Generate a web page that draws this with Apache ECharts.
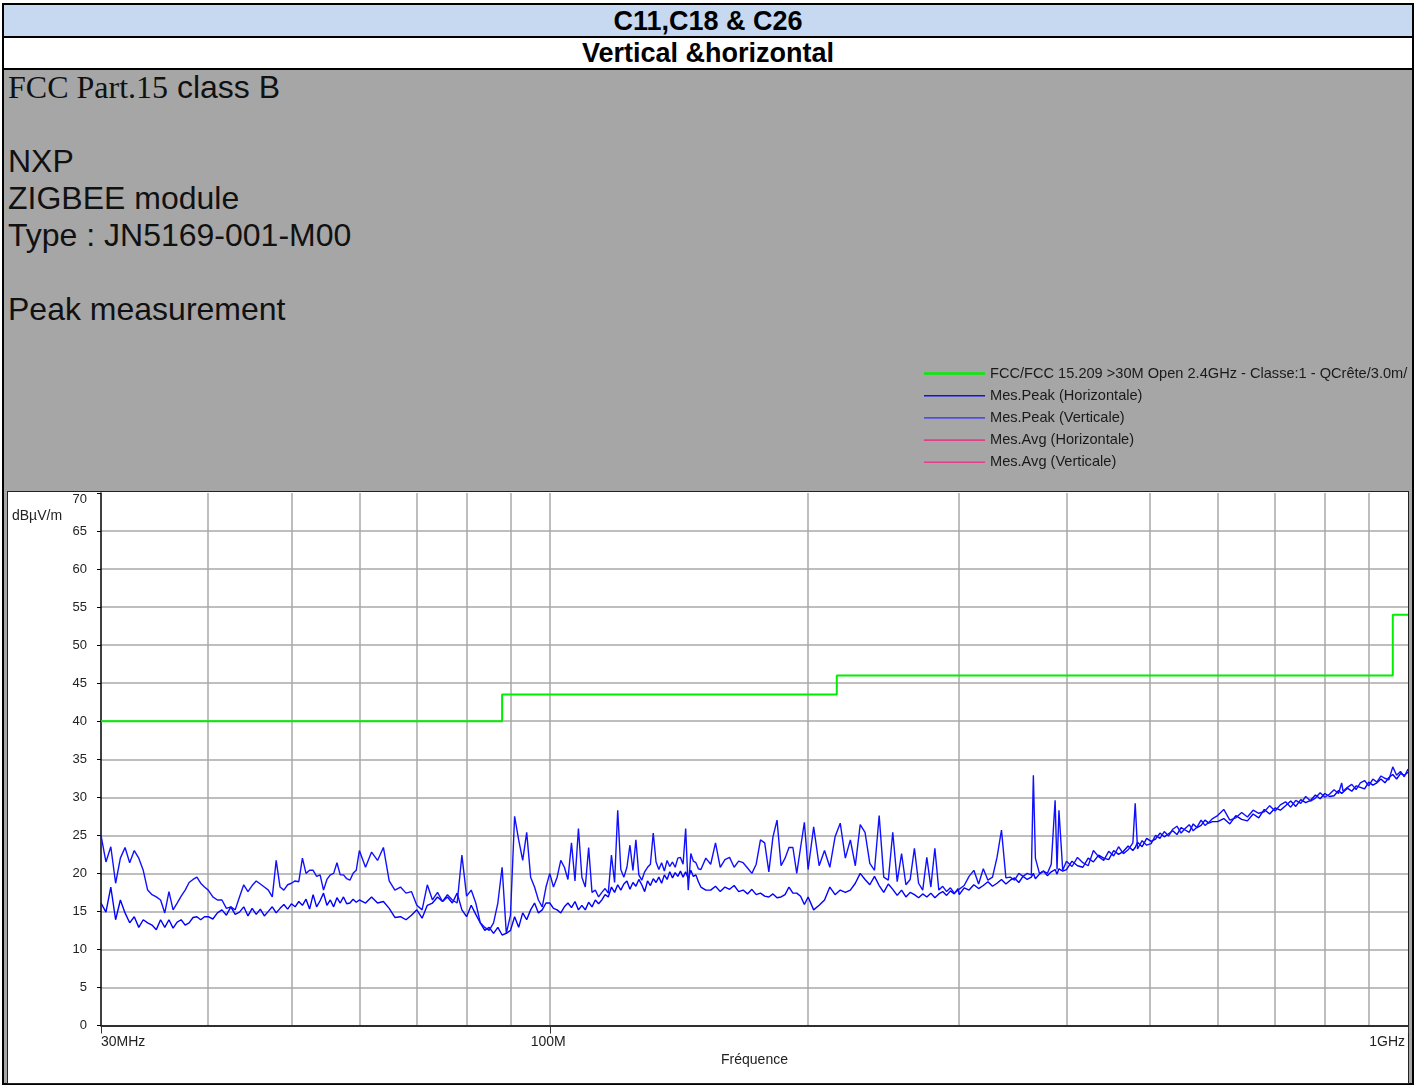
<!DOCTYPE html>
<html>
<head>
<meta charset="utf-8">
<script src="https://cdn.jsdelivr.net/npm/echarts@6/dist/echarts.min.js"></script>
<style>
html,body{margin:0;padding:0;background:#fff;width:1416px;height:1086px;overflow:hidden;font-family:"Liberation Sans",Arial,sans-serif;}
.abs{position:absolute;}
#outer{left:2px;top:3px;width:1412px;height:1082px;box-sizing:border-box;border:2px solid #000;background:#a6a6a6;}
#h1{left:4px;top:5px;width:1408px;height:31px;border-bottom:2px solid #000;background:#c6d9f1;text-align:center;font-weight:bold;font-size:27px;line-height:32px;color:#000;}
#h2{left:4px;top:38px;width:1408px;height:30px;border-bottom:2px solid #000;background:#fff;text-align:center;font-weight:bold;font-size:27px;line-height:30px;color:#000;}
#info{left:8px;top:69px;font-size:32px;line-height:37px;color:#111;white-space:pre;}
#info .serif{font-family:"Liberation Serif","Times New Roman",serif;}
#plotframe{left:7px;top:491px;width:1402px;height:593px;box-sizing:border-box;border:1.5px solid #222;background:#fff;}
#chart{left:0;top:0;width:1416px;height:1086px;}
</style>
</head>
<body>
<div id="outer" class="abs"></div>
<div id="h1" class="abs">C11,C18 &amp; C26</div>
<div id="h2" class="abs">Vertical &amp;horizontal</div>
<div id="info" class="abs"><span class="serif">FCC Part.15</span> class B

NXP
ZIGBEE module
Type : JN5169-001-M00

Peak measurement</div>
<div id="plotframe" class="abs"></div>
<div id="chart" class="abs"></div>
<script>
// ---- Data (frequency in MHz, level in dBµV/m) ----
const freqMHz = [
30,30.4,30.8,31.2,31.6,32,32.4,32.8,33.2,33.6,34,34.4,34.8,35.2,35.6,36,36.4,36.8,37.2,37.6,38,38.4,38.8,39.2,39.6,
40,40.5,41,41.5,42,42.5,43,43.5,44,44.5,45,45.5,46,46.5,47,47.5,48,48.5,49,49.5,50,50.5,51,51.5,52,52.5,53,53.5,54,54.5,55,55.5,56,56.5,57,57.5,58,58.5,59,59.5,
60,61,62,63,64,65,66,67,68,69,70,71,72,73,74,75,76,77,78,79,80,81,82,83,84,85,86,87,88,89,90,91,92,93,94,95,96,97,98,99,
100,101,102,103,104,105,106,107,108,109,110,111,112,113,114,115,116,117,118,119,120,121,122,123,124,125,126,127,128,129,130,131,132,133,134,135,136,137,138,139,140,141,142,143,144,145,146,147,148,149,
150,152,154,156,158,160,162,164,166,168,170,172,174,176,178,180,182,184,186,188,190,192,194,196,198,
200,203,206,209,212,215,218,221,224,227,230,233,236,239,242,245,248,251,254,257,260,263,266,269,272,275,278,281,284,287,290,293,296,299,
300,304,308,312,316,320,324,328,332,336,340,344,348,352,356,360,364,366,368,372,376,380,384,388,390,392,396,
400,406,412,418,424,430,436,442,448,454,460,466,472,478,481,484,490,496,502,508,514,520,526,532,538,544,550,556,562,568,574,580,586,592,
600,610,620,630,640,650,660,670,680,690,700,710,720,730,740,750,760,770,780,790,800,810,820,830,837,840,850,860,870,880,890,900,910,920,930,940,950,960,970,980,990,1000
];

const peakVert = [
25,21.5,23.5,18.7,22,23.4,21.4,23,22,20.4,17.8,17.2,16.9,16.5,14.8,17.6,15.2,16.1,17,17.8,18.8,19.2,19.5,18.7,18.2,
17.8,16.9,16.5,16.5,15.4,15.6,15.2,16.9,18.5,17.6,18.4,19,18.6,18.2,17.8,16.9,21.7,18.2,17.8,18.5,18.7,19,18.9,22,20,20.4,20.4,19.6,19.8,17.8,19.2,19.8,20,21.4,19.8,19.8,19.3,19.1,20,20.4,
23,20.8,22.8,21.7,23.4,19,17.8,18.2,17.4,17.6,15.8,15.2,18.5,16.5,17.5,16.3,17.2,16.5,16.1,22.4,17,17.8,16.1,13.5,12.9,12.5,13.5,16.1,20.8,12.1,14.5,27.5,24.4,21.7,25.4,19.5,18.2,16.5,15.6,18.2,
20,18.2,19.5,21.7,20.8,19.2,24,19,25.9,19.5,18.2,23.4,17.5,17.8,16.9,17.5,18,17.4,22.4,18.8,28.3,20.5,19.5,20.8,23.7,20.4,24.4,19.8,19.1,20.2,20.8,21.2,25.3,21.5,20.5,21.4,20.3,21.7,20.9,21.5,20.8,22,22.1,21.2,25.9,17.8,22.6,21.6,21.4,20.6,
20.5,22,21.2,24,20.8,21.8,22.1,20.8,21.6,21.4,20.7,20,21.2,24.4,24,20.2,24.8,27,21,22,23.4,23.4,20,23.4,26.7,
20.5,26.1,21,23,20.8,24.8,26.6,22,24.4,21,26.4,25.4,21.3,20.4,27.6,19.5,19.1,25.4,18.9,22.6,18.5,19.2,23.3,18.7,17.8,22.1,18.2,23.3,17.8,18.3,17.6,18.1,17.4,17.8,
17.8,18.4,19.6,20.4,18.6,20.6,19.1,19.5,22.1,25.7,19.4,19.5,19.1,20,19.6,20,19.8,32.9,22,20,20.3,20,21.2,29.6,20.5,28.3,20.4,
21.6,20.9,22.1,21.4,21.0,23.0,22.2,21.7,22.9,22.3,23.5,22.6,23.1,24.0,29.2,23.2,24.3,23.7,23.9,25.0,24.6,25.5,24.9,25.8,26.2,25.3,25.9,26.4,25.6,26.1,27.0,26.3,26.7,27.2,
27.6,28.4,27.0,27.3,28.0,27.4,28.3,27.9,28.1,28.9,28.2,29.0,29.4,28.7,29.6,29.2,30.1,29.5,29.9,30.6,30.0,30.4,31.0,30.5,31.9,30.8,31.3,31.7,31.0,31.9,32.2,31.5,32.4,32.0,32.8,32.5,32.3,34.0,32.9,33.4,32.7,33.7
];

const peakHoriz = [
16.1,14.9,18.2,13.9,16.5,14.8,13.5,14.3,12.9,13.9,13.5,13.2,12.6,13.9,12.9,13.9,12.8,13.6,13.9,13.2,13.5,14.2,14.3,13.9,14.3,
14.3,14.0,14.8,15.2,14.5,15.6,14.6,14.9,15.6,14.4,15.4,14.6,15.3,14.4,15.0,15.6,14.8,15.4,15.9,15.3,16.0,15.6,16.3,15.8,16.6,15.3,17.2,15.6,16.4,17.4,15.8,16.5,15.6,16.8,16.1,16.9,16.0,16.1,16.6,16.2,
16.5,16.1,16.9,16.1,16.3,15.4,14.2,14.3,13.9,14.5,15.2,14.1,15.8,16.1,16.9,16.3,16.9,16.1,17.4,15.2,14.3,15.8,14.6,13.5,12.5,12.9,12.1,12.9,11.9,12.1,12.5,14.3,12.9,14.8,13.9,15.2,16.1,14.8,15.2,16.1,
16.1,15.4,15.2,14.8,15.6,16.1,15.5,16.3,15.2,15.8,15.2,16.2,15.6,16.5,16.0,16.5,17.2,16.9,18.2,17.5,18.5,17.8,18.6,19.0,17.9,18.8,18.3,19.2,18.5,17.6,19.0,18.4,19.3,18.8,19.5,18.7,19.8,19.2,20.2,19.4,20.1,19.6,20.3,19.5,20.2,19.3,20.4,19.6,19.8,18.9,
18.2,17.8,17.8,18.3,17.6,18.2,17.9,18.4,17.6,17.8,17.3,17.9,17.2,17.4,17.0,16.9,17.3,16.8,16.9,17.2,18.2,17.4,17.4,17.0,15.9,
16.9,15.2,15.8,16.5,18.2,17.2,17.8,17.5,17.8,18.7,20,19.2,18.5,19.6,18.4,17.5,18.6,17.9,17.1,17.8,16.9,17.5,17.2,16.8,17.3,16.9,17.4,16.8,17.3,17.6,17.1,17.7,17.3,18,
17.2,18.1,17.8,18.5,18.0,18.4,18.9,18.3,18.7,19.2,18.6,19.1,19.4,18.8,19.6,19.2,19.5,20.0,19.3,19.9,20.3,19.7,20.2,20.5,19.9,20.6,20.3,
20.5,21.6,21.0,20.8,22.0,21.5,22.4,22.0,21.8,23.0,22.5,22.9,23.6,23.0,23.4,24.1,23.5,24.6,24.2,24.5,25.3,24.8,25.2,25.6,25.1,26.0,25.7,25.4,26.5,26.0,26.3,27.0,26.6,26.8,
26.8,27.2,26.5,27.6,27.1,26.9,27.8,27.3,28.4,27.8,28.6,28.3,28.9,29.5,28.8,29.7,29.3,29.6,30.3,29.8,30.5,30.1,30.2,30.9,30.5,30.6,31.2,30.8,31.5,31.3,31.1,32.0,31.6,31.9,32.4,31.9,32.6,33.0,32.4,33.1,32.9,33.3
];

const avgHoriz = [];
const avgVert = [];

// FCC 15.209 limit (step at each listed frequency)
const limitFreqMHz = [30, 88, 216, 960, 1000];
const limitDb = [40, 43.5, 46, 54, 54];

// Axis ticks / labels
const xGridMHz = [40,50,60,70,80,90,100,200,300,400,500,600,700,800,900];
const xLabelMHz = [30, 100, 1000];
const xLabelText = ['30MHz', '100M', '1GHz'];
const yMin = 0, yMax = 70, yStep = 5;

const seriesNames = [
  'FCC/FCC 15.209 >30M Open 2.4GHz - Classe:1 - QCrête/3.0m/',
  'Mes.Peak (Horizontale)',
  'Mes.Peak (Verticale)',
  'Mes.Avg (Horizontale)',
  'Mes.Avg (Verticale)'
];

// ---- Chart ----
const lg = Math.log10;
const xMin = lg(30), xMax = lg(1000);
const toPts = (fs, vs) => fs.map((f, i) => [lg(f), vs[i]]);
const font = 'Liberation Sans, Arial, sans-serif';
const thinIcon = 'path://M0,0H60V1.6H0Z';
const thickIcon = 'path://M0,0H60V2.6H0Z';

const chart = echarts.init(document.getElementById('chart'), null, {renderer: 'canvas'});
const option = {
  animation: false,
  backgroundColor: 'transparent',
  textStyle: {fontFamily: font},
  grid: {left: 101, top: 493, width: 1307, height: 532.5, show: false},
  legend: {
    orient: 'vertical', left: 924, top: 366, padding: 0,
    itemWidth: 61, itemHeight: 14, itemGap: 7.2,
    selectedMode: false,
    textStyle: {fontSize: 14.6, color: '#1a1a1a', fontFamily: font},
    data: seriesNames.map((n, i) => ({name: n, icon: i === 0 ? thickIcon : thinIcon}))
  },
  graphic: [{
    type: 'text', left: 12, top: 509,
    style: {text: 'dBµV/m', fontSize: 14, fill: '#222', fontFamily: font}
  }],
  xAxis: [
    {
      type: 'value', min: xMin, max: xMax, position: 'bottom',
      axisLine: {show: false}, axisLabel: {show: false},
      axisTick: {show: false, customValues: xGridMHz.map(lg)},
      splitLine: {show: true, lineStyle: {color: '#a8a8a8', width: 1.5}}
    },
    {
      type: 'value', min: xMin, max: xMax, position: 'bottom',
      axisLine: {show: true, onZero: false, lineStyle: {color: '#000', width: 1.5}},
      axisTick: {show: true, length: 8, customValues: xLabelMHz.map(lg), lineStyle: {color: '#333', width: 1}},
      axisLabel: {
        show: true, customValues: xLabelMHz.map(lg), margin: 10, fontSize: 14, color: '#222',
        alignMinLabel: 'left', alignMaxLabel: 'right', padding: [0, 3, 0, 0],
        formatter: function (v) {
          for (let i = 0; i < xLabelMHz.length; i++) {
            if (Math.abs(lg(xLabelMHz[i]) - v) < 1e-6) return xLabelText[i];
          }
          return '';
        }
      },
      splitLine: {show: false},
      name: 'Fréquence', nameLocation: 'middle', nameGap: 28,
      nameTextStyle: {fontSize: 14, color: '#222'}
    }
  ],
  yAxis: {
    type: 'value', min: yMin, max: yMax, interval: yStep,
    axisLine: {show: true, lineStyle: {color: '#000', width: 1.5}},
    axisTick: {show: true, length: 4, lineStyle: {color: '#000'}},
    axisLabel: {margin: 14, fontSize: 13, color: '#222', verticalAlign: 'middle', padding: [0, 0, 6, 0], verticalAlignMaxLabel: 'top'},
    splitLine: {show: true, showMaxLine: false, lineStyle: {color: '#a8a8a8', width: 1.5}}
  },
  series: [
    {
      name: seriesNames[0], type: 'line', step: 'end', symbol: 'none', silent: true, z: 4,
      data: toPts(limitFreqMHz, limitDb),
      lineStyle: {color: '#00ee00', width: 2}, itemStyle: {color: '#00ee00'}
    },
    {
      name: seriesNames[1], type: 'line', symbol: 'none', silent: true, z: 3,
      data: toPts(freqMHz, peakHoriz),
      lineStyle: {color: '#0000ff', width: 1.4}, itemStyle: {color: '#1010f0'}
    },
    {
      name: seriesNames[2], type: 'line', symbol: 'none', silent: true, z: 3,
      data: toPts(freqMHz, peakVert),
      lineStyle: {color: '#1010ff', width: 1.4}, itemStyle: {color: '#5050e0'}
    },
    {
      name: seriesNames[3], type: 'line', symbol: 'none', silent: true,
      data: avgHoriz, lineStyle: {color: '#e6408c', width: 1.2}, itemStyle: {color: '#e0408a'}
    },
    {
      name: seriesNames[4], type: 'line', symbol: 'none', silent: true,
      data: avgVert, lineStyle: {color: '#e6408c', width: 1.2}, itemStyle: {color: '#e0408a'}
    }
  ]
};
chart.setOption(option);
</script>
</body>
</html>
